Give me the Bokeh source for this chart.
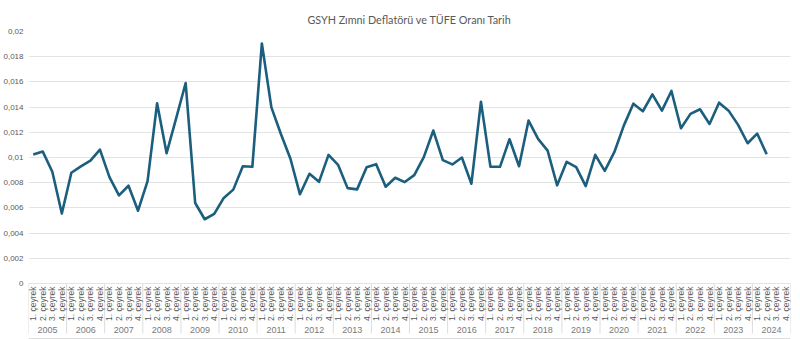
from bokeh.plotting import figure
from bokeh.models import FactorRange, CustomJSTickFormatter, FixedTicker, ColumnDataSource
from bokeh.embed import file_html
from bokeh.resources import INLINE
import math

years = [str(y) for y in range(2005, 2025)]
quarters = ["1. çeyrek", "2. çeyrek", "3. çeyrek", "4. çeyrek"]

values = [
    0.01024, 0.01047, 0.00887, 0.00555,
    0.00879, 0.00930, 0.00976, 0.01063,
    0.00844, 0.00700, 0.00776, 0.00578,
    0.00813, 0.01430, 0.01034, 0.01311,
    0.01591, 0.00639, 0.00510, 0.00552,
    0.00679, 0.00745, 0.00931, 0.00926,
    0.01905, 0.01398, 0.01187, 0.00990,
    0.00708, 0.00871, 0.00807, 0.01021,
    0.00942, 0.00757, 0.00747, 0.00923,
    0.00947, 0.00768, 0.00839, 0.00805,
    0.00860, 0.01003, 0.01214, 0.00979,
    0.00945, 0.01000, 0.00792, 0.01443,
    0.00926, 0.00926, 0.01145, 0.00931,
    0.01293, 0.01148, 0.01055, 0.00779,
    0.00966, 0.00923, 0.00773, 0.01021,
    0.00894, 0.01042, 0.01253, 0.01427,
    0.01367, 0.01501, 0.01372, 0.01528,
    0.01232, 0.01346, 0.01383, 0.01266,
    0.01435, 0.01372, 0.01259, 0.01113,
    0.01190, 0.01026,
]
y_ticks = [0, 0.002, 0.004, 0.006, 0.008, 0.01, 0.012, 0.014, 0.016, 0.018, 0.02]

factors = [(y, q) for y in years for q in quarters]
src = ColumnDataSource(dict(x=factors[:len(values)], y=values))

# frame runs down to the bottom edge; the value axis keeps 0..0.02 over the upper part
Y_TOP = 0.02
Y_BOTTOM = -0.02 * 56 / 252

p = figure(width=800, height=339, output_backend="svg", toolbar_location=None,
           x_range=FactorRange(*factors, range_padding=0, group_padding=0, factor_padding=0),
           y_range=(Y_BOTTOM, Y_TOP), min_border_left=0, min_border_right=10,
           min_border_top=31, min_border_bottom=0)

p.title.text = "GSYH Zımni Deflatörü ve TÜFE Oranı Tarih"
p.title.align = "center"
p.title.text_font = "Lato"
p.title.text_font_size = "10.8px"
p.title.text_font_style = "normal"
p.title.text_color = "#595959"
p.title.offset = 0
p.title.standoff = 12

# year group separators and the bottom border of the category box
n_cat = len(years) * len(quarters)
sep_x = list(range(0, n_cat + 1, len(quarters)))
p.segment(x0=sep_x, y0=[0] * len(sep_x), x1=sep_x, y1=[-0.02 * 50 / 252] * len(sep_x),
          line_color="#dcdcdc", line_width=1)
p.segment(x0=[0], y0=[-0.02 * 55 / 252], x1=[n_cat], y1=[-0.02 * 55 / 252],
          line_color="#dcdcdc", line_width=1)

p.line("x", "y", source=src, line_color="#1b5e7e", line_width=2.6, line_join="round")

p.outline_line_color = None
p.xgrid.grid_line_color = None
p.ygrid.grid_line_color = "#e3e3e3"
p.ygrid.grid_line_width = 1
p.yaxis.ticker = FixedTicker(ticks=y_ticks)
p.yaxis.formatter = CustomJSTickFormatter(code="""
if (tick == 0) return '0';
return parseFloat(tick.toFixed(3)).toString().replace('.', ',');
""")
p.yaxis.axis_line_color = None
p.yaxis.major_tick_line_color = None
p.yaxis.major_tick_out = 0
p.yaxis.minor_tick_line_color = None
p.yaxis.minor_tick_out = 0
p.yaxis.major_label_text_font = "Liberation Sans"
p.yaxis.major_label_text_font_size = "8px"
p.yaxis.major_label_text_color = "#595959"
p.yaxis.major_label_standoff = 5

xa = p.xaxis[0]
xa.fixed_location = 0
xa.axis_line_color = "#e3e3e3"
xa.major_tick_line_color = None
xa.major_tick_out = 0
xa.minor_tick_line_color = None
xa.minor_tick_out = 0
xa.major_label_orientation = math.pi / 2
xa.major_label_text_font = "Liberation Sans"
xa.major_label_text_font_size = "8.5px"
xa.major_label_text_color = "#595959"
xa.major_label_standoff = 3
xa.group_text_font = "Liberation Sans"
xa.group_text_font_size = "9px"
xa.group_text_color = "#7a7a7a"
xa.group_text_font_style = "normal"
xa.separator_line_color = None

open("out.html", "w").write(file_html(p, INLINE))
